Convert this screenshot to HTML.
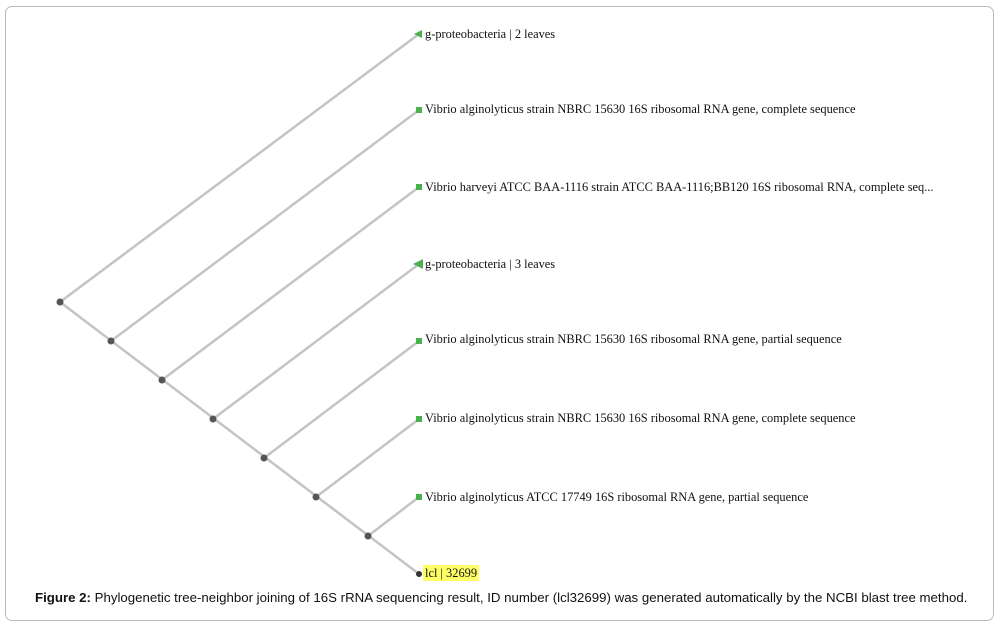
<!DOCTYPE html>
<html><head><style>
body{margin:0;width:1005px;height:629px;background:#fff;position:relative;overflow:hidden}
.frame{position:absolute;left:5px;top:6px;width:987px;height:613px;border:1.5px solid #bbb;border-radius:7px}
.lbl{position:absolute;left:425px;font:12.4px "Liberation Serif",serif;color:#111;white-space:nowrap;line-height:14px}
.cap{position:absolute;left:35px;top:590px;font:13.25px "Liberation Sans",sans-serif;color:#111;white-space:nowrap}
</style></head><body>
<div class="frame"></div>
<svg width="1005" height="629" style="position:absolute;left:0;top:0">
<g stroke="#c4c4c4" stroke-width="2.5" fill="none">
<line x1="60" y1="302" x2="419" y2="34"/>
<line x1="60" y1="302" x2="419" y2="574"/>
<line x1="111" y1="341" x2="419" y2="110"/>
<line x1="162" y1="380" x2="419" y2="187"/>
<line x1="213" y1="419" x2="419" y2="264"/>
<line x1="264" y1="458" x2="419" y2="341"/>
<line x1="316" y1="497" x2="419" y2="419"/>
<line x1="368" y1="536" x2="419" y2="497"/>
</g>
<g fill="#555">
<circle cx="60" cy="302" r="3.5"/><circle cx="111" cy="341" r="3.5"/><circle cx="162" cy="380" r="3.5"/>
<circle cx="213" cy="419" r="3.5"/><circle cx="264" cy="458" r="3.5"/><circle cx="316" cy="497" r="3.5"/>
<circle cx="368" cy="536" r="3.5"/><circle cx="419" cy="574" r="3" fill="#333"/>
</g>
<g fill="#4caf50">
<polygon points="414,34 422,30 422,38"/>
<rect x="416" y="107" width="6" height="6"/>
<rect x="416" y="184" width="6" height="6"/>
<polygon points="413,264 423,259 423,269"/>
<rect x="416" y="338" width="6" height="6"/>
<rect x="416" y="416" width="6" height="6"/>
<rect x="416" y="494" width="6" height="6"/>
</g>
<rect x="423" y="565" width="56" height="16" fill="#ffff66"/>
</svg>
<div class="lbl" style="top:27px">g-proteobacteria | 2 leaves</div>
<div class="lbl" style="top:102px">Vibrio alginolyticus strain NBRC 15630 16S ribosomal RNA gene, complete sequence</div>
<div class="lbl" style="top:180px">Vibrio harveyi ATCC BAA-1116 strain ATCC BAA-1116;BB120 16S ribosomal RNA, complete seq...</div>
<div class="lbl" style="top:257px">g-proteobacteria | 3 leaves</div>
<div class="lbl" style="top:332px">Vibrio alginolyticus strain NBRC 15630 16S ribosomal RNA gene, partial sequence</div>
<div class="lbl" style="top:411px">Vibrio alginolyticus strain NBRC 15630 16S ribosomal RNA gene, complete sequence</div>
<div class="lbl" style="top:490px">Vibrio alginolyticus ATCC 17749 16S ribosomal RNA gene, partial sequence</div>
<div class="lbl" style="top:566px">lcl | 32699</div>
<div class="cap"><b>Figure 2:</b> Phylogenetic tree-neighbor joining of 16S rRNA sequencing result, ID number (lcl32699) was generated automatically by the NCBI blast tree method.</div>
</body></html>
